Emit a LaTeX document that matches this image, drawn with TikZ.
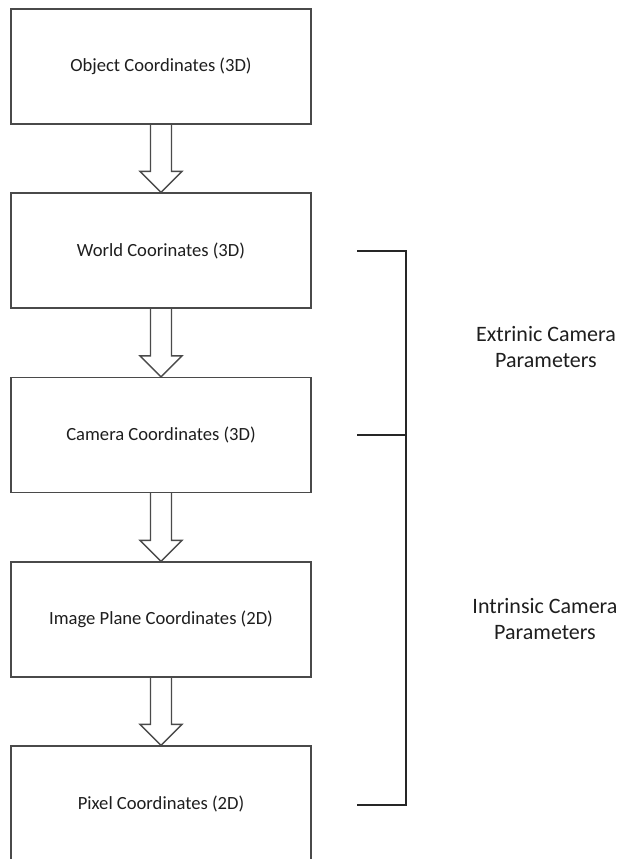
\documentclass[tikz,border=0pt]{standalone}
\usepackage{fontspec}
\setmainfont{Carlito}
\usetikzlibrary{calc}
\definecolor{boxline}{HTML}{4A4A4A}
\definecolor{txt}{HTML}{1E1E1E}
\tikzset{
  box/.style={draw=boxline, line width=1.3pt, minimum width=300pt, minimum height=115pt, inner sep=0pt, text=txt, font=\fontsize{18.6}{21}\selectfont},
  bigarrow/.style={draw=boxline, line width=1.3pt, line join=miter},
  brace/.style={draw=black!85, line width=1.3pt},
  side/.style={align=center, text=txt, font=\fontsize{22}{26.5}\selectfont}
}
\begin{document}
\begin{tikzpicture}[x=1pt,y=-1pt]
\useasboundingbox (0,0) rectangle (620,859);
\node[box] (b1) at (161,66.5) {Object Coordinates (3D)};
\node[box] (b2) at (161,250.5) {World Coorinates (3D)};
\node[box] (b3) at (161,435) {Camera Coordinates (3D)};
\node[box] (b4) at (161,619.5) {Image Plane Coordinates (2D)};
\node[box] (b5) at (161,803.5) {Pixel Coordinates (2D)};
\foreach \a/\b in {b1/b2,b2/b3,b3/b4,b4/b5}{
  \draw[bigarrow] ($(\a.south)+(-10.5,0)$) -- ($(\b.north)+(-10.5,-21)$) -- ($(\b.north)+(-21,-21)$) -- (\b.north) -- ($(\b.north)+(21,-21)$) -- ($(\b.north)+(10.5,-21)$) -- ($(\a.south)+(10.5,0)$);
}
\coordinate (t1) at (357,251);
\coordinate (t2) at (357,435);
\coordinate (t3) at (357,805);
\coordinate (v1) at (406,251);
\coordinate (v2) at (406,435);
\coordinate (v3) at (406,805);
\draw[brace] (t1) -- (v1) -- (v3) -- (t3);
\draw[brace] (t2) -- (v2);
\node[side] (ext) at (546,347) {Extrinic Camera\\Parameters};
\node[side] (int) at (545,619) {Intrinsic Camera\\Parameters};
\end{tikzpicture}
\end{document}
